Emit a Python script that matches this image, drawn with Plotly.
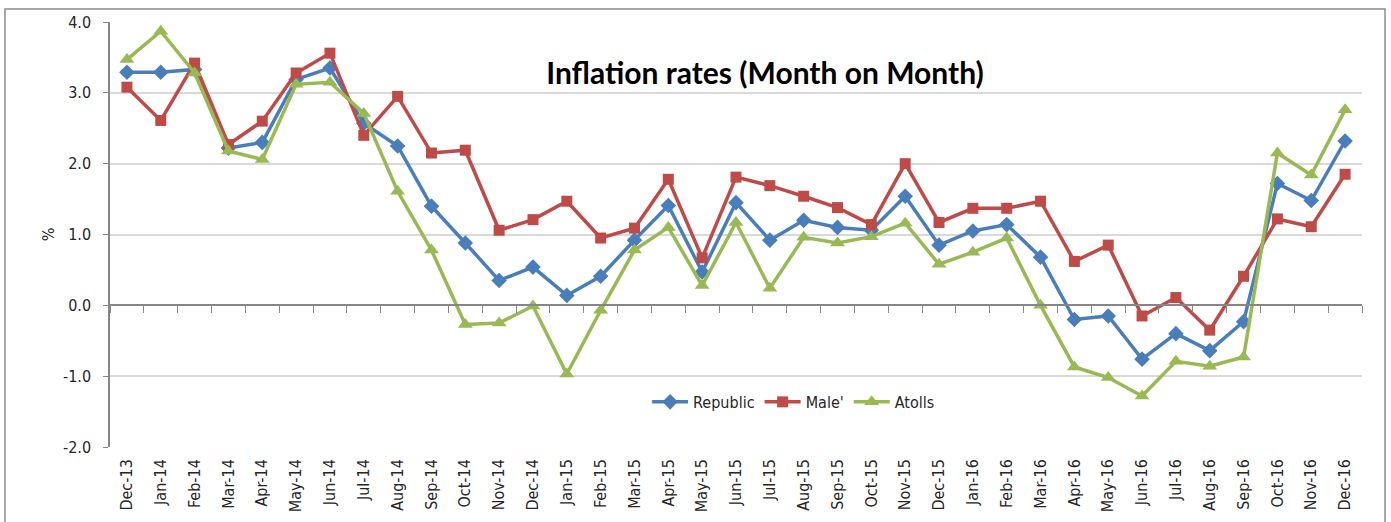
import plotly.graph_objects as go

months = ["Dec-13","Jan-14","Feb-14","Mar-14","Apr-14","May-14","Jun-14","Jul-14","Aug-14","Sep-14",
          "Oct-14","Nov-14","Dec-14","Jan-15","Feb-15","Mar-15","Apr-15","May-15","Jun-15","Jul-15",
          "Aug-15","Sep-15","Oct-15","Nov-15","Dec-15","Jan-16","Feb-16","Mar-16","Apr-16","May-16",
          "Jun-16","Jul-16","Aug-16","Sep-16","Oct-16","Nov-16","Dec-16"]

republic = [3.29,3.29,3.33,2.22,2.30,3.19,3.35,2.57,2.25,1.40,
            0.88,0.35,0.54,0.14,0.41,0.92,1.41,0.47,1.45,0.92,
            1.20,1.10,1.06,1.54,0.85,1.05,1.14,0.68,-0.20,-0.15,
            -0.76,-0.40,-0.64,-0.23,1.72,1.48,2.32]

male = [3.08,2.61,3.42,2.27,2.60,3.28,3.56,2.40,2.95,2.15,
        2.19,1.06,1.21,1.47,0.95,1.09,1.78,0.67,1.81,1.69,
        1.54,1.38,1.14,2.00,1.17,1.37,1.37,1.47,0.62,0.85,
        -0.15,0.11,-0.35,0.41,1.22,1.11,1.85]

atolls = [3.47,3.87,3.28,2.18,2.06,3.12,3.15,2.71,1.61,0.78,
          -0.27,-0.25,-0.01,-0.97,-0.07,0.78,1.10,0.28,1.17,0.24,
          0.96,0.88,0.97,1.16,0.58,0.75,0.95,0.00,-0.87,-1.02,
          -1.28,-0.79,-0.86,-0.73,2.15,1.84,2.76]

y_ticks = [-2.0, -1.0, 0.0, 1.0, 2.0, 3.0, 4.0]
y_tick_labels = ["-2.0", "-1.0", "0.0", "1.0", "2.0", "3.0", "4.0"]

series = [
    ("Republic", republic, "#4A7EBB", "diamond", 12),
    ("Male'", male, "#BE4B48", "square", 11),
    ("Atolls", atolls, "#98B954", "triangle-up", 13),
]

fig = go.Figure()
for name, vals, color, sym, sz in series:
    fig.add_trace(go.Scatter(
        x=months, y=vals, name=name, mode="lines+markers",
        line=dict(color=color, width=3.5),
        marker=dict(symbol=sym, size=sz, color=color),
    ))

# invisible helper trace for the category axis drawn at y = 0
fig.add_trace(go.Scatter(x=months, y=[None]*len(months), xaxis="x2", yaxis="y",
                         showlegend=False, hoverinfo="skip", mode="lines"))

tick_font = dict(family="DejaVu Sans Condensed, DejaVu Sans", size=16, color="#262626")

fig.update_layout(
    width=1391, height=522,
    margin=dict(l=110, r=29, t=22, b=75),
    paper_bgcolor="white", plot_bgcolor="white",
    title=dict(text="<b>Inflation rates (Month on Month)</b>",
               font=dict(family="Lato, Open Sans", size=30, color="#000000"),
               x=0.55, xref="container", xanchor="center",
               y=0.86, yref="container", yanchor="middle"),
    xaxis=dict(type="category", categoryorder="array", categoryarray=months,
               range=[-0.5, len(months) - 0.5],
               tickangle=-90, tickfont=tick_font, showgrid=False,
               showline=False, ticks="", zeroline=False, automargin=False,
               ticklabelstandoff=8),
    xaxis2=dict(type="category", overlaying="x", matches="x", anchor="free",
                position=1/3, side="bottom",
                showline=True, linecolor="#868686", linewidth=1.5,
                ticks="outside", ticklen=7, tickcolor="#868686", tickwidth=1,
                tickson="boundaries", showticklabels=False, showgrid=False),
    yaxis=dict(range=[-2.0, 4.0], tickmode="array", tickvals=y_ticks, ticktext=y_tick_labels,
               tickfont=tick_font, showgrid=True, gridcolor="#D9D9D9", gridwidth=1.5,
               showline=True, linecolor="#868686", linewidth=1.5,
               ticks="outside", ticklen=5, tickcolor="#868686",
               zeroline=False, automargin=False, ticklabelstandoff=9,
               title=dict(text="%", font=dict(family="DejaVu Sans Condensed, DejaVu Sans", size=16, color="#262626"),
                          standoff=4)),
    legend=dict(orientation="h", x=0.546, y=0.106, xanchor="center", yanchor="middle",
                font=dict(family="DejaVu Sans Condensed, DejaVu Sans", size=16, color="#262626"),
                bgcolor="rgba(0,0,0,0)", itemwidth=36, tracegroupgap=0),
    showlegend=True,
)

# outer chart border
fig.add_shape(type="rect", xref="paper", yref="paper",
              x0=-0.0839, x1=1.0184, y0=-0.3, y1=1.0306,
              line=dict(color="#8C8C8C", width=1.5), fillcolor="rgba(0,0,0,0)", layer="below")

fig.write_html("out.html", config={"displayModeBar": False},
               post_script="document.body.style.margin='0px';")
